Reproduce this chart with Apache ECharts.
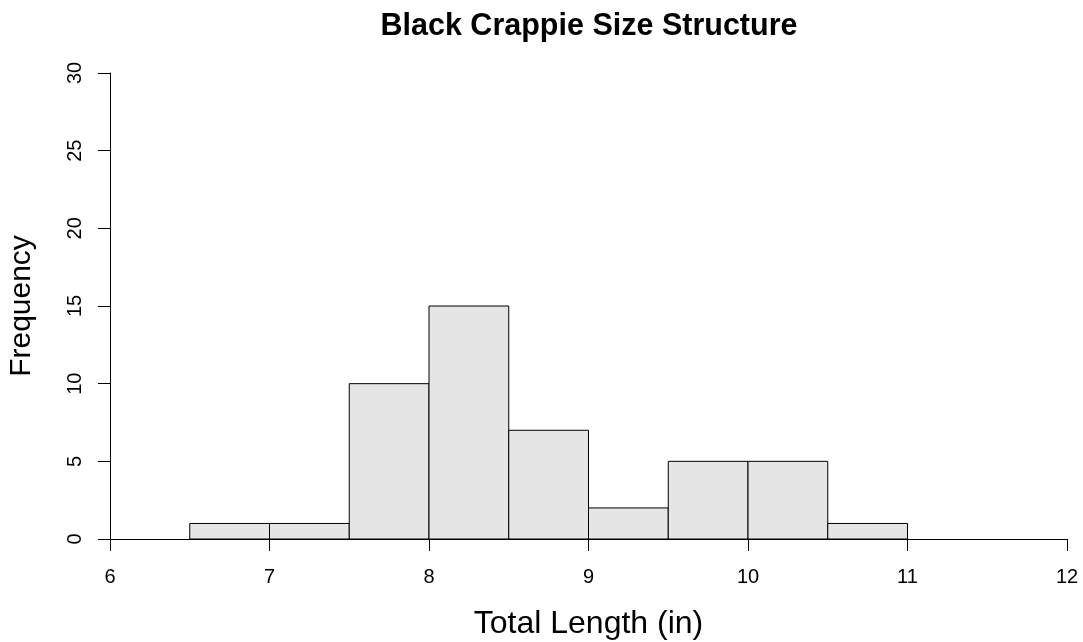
<!DOCTYPE html>
<html><head><meta charset="utf-8">
<script src="https://cdn.jsdelivr.net/npm/echarts@6/dist/echarts.min.js"></script>
<style>html,body{margin:0;padding:0;background:#fff}#c{width:1083px;height:642px}</style>
</head><body><div id="c"></div>
<script>
const binStarts = [6.5, 7.0, 7.5, 8.0, 8.5, 9.0, 9.5, 10.0, 10.5];
const binEnds   = [7.0, 7.5, 8.0, 8.5, 9.0, 9.5, 10.0, 10.5, 11.0];
const counts    = [1, 1, 10, 15, 7, 2, 5, 5, 1];
const xTicks = [6, 7, 8, 9, 10, 11, 12];
const yTicks = [0, 5, 10, 15, 20, 25, 30];

const data = binStarts.map((s, i) => [s, binEnds[i], counts[i]]);
const chart = echarts.init(document.getElementById('c'));
const font = 'Liberation Sans, Arial, sans-serif';
chart.setOption({
  animation: false,
  title: {
    text: 'Black Crappie Size Structure',
    left: 584, top: 6, textAlign: 'center',
    textStyle: {fontFamily: font, fontWeight: 'bold', fontSize: 30.5, color: '#000'}
  },
  grid: {left: 110, right: 16, top: 73, bottom: 103, outerBoundsMode: 'none', containLabel: false},
  xAxis: {
    type: 'value', min: xTicks[0], max: xTicks[xTicks.length - 1], interval: 1,
    name: 'Total Length (in)', nameLocation: 'middle', nameGap: 69,
    nameTextStyle: {fontFamily: font, fontSize: 32, color: '#000'},
    axisLine: {show: true, onZero: false, lineStyle: {color: '#000', width: 1}},
    axisTick: {show: true, length: 12, lineStyle: {color: '#000'}},
    axisLabel: {fontFamily: font, fontSize: 20, color: '#000', margin: 28},
    splitLine: {show: false}
  },
  yAxis: {
    type: 'value', min: yTicks[0], max: yTicks[yTicks.length - 1], interval: 5,
    name: 'Frequency', nameLocation: 'middle', nameGap: 73,
    nameTextStyle: {fontFamily: font, fontSize: 30, color: '#000'},
    axisLine: {show: true, lineStyle: {color: '#000', width: 1}},
    axisTick: {show: true, length: 12, lineStyle: {color: '#000'}},
    axisLabel: {fontFamily: font, fontSize: 20, color: '#000', rotate: 90, margin: 25},
    splitLine: {show: false}
  },
  series: [{
    type: 'custom',
    data: data,
    encode: {x: [0, 1], y: 2},
    renderItem: function (params, api) {
      const p0 = api.coord([api.value(0), 0]);
      const p1 = api.coord([api.value(1), api.value(2)]);
      return {
        type: 'rect',
        shape: {x: p0[0], y: p1[1], width: p1[0] - p0[0], height: p0[1] - p1[1]},
        style: {fill: '#e5e5e5', stroke: '#000', lineWidth: 1}
      };
    }
  }]
});
</script></body></html>
